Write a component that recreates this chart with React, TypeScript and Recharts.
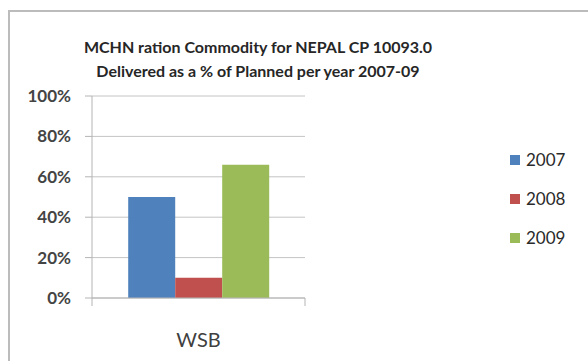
import { BarChart, Bar, XAxis, YAxis, CartesianGrid } from "recharts";

const categories = ["WSB"];
const years = ["2007", "2008", "2009"];
const delivered2007 = [0.5];
const delivered2008 = [0.1];
const delivered2009 = [0.66];
const yTicks = [0, 0.2, 0.4, 0.6, 0.8, 1];
const titleLines = [
  "MCHN ration Commodity for NEPAL CP 10093.0",
  "Delivered as a % of Planned per year 2007-09",
];

const COLORS = ["#4F81BD", "#C0504D", "#9BBB59"];
const FONT = "Lato, 'Open Sans', sans-serif";

const series = [delivered2007, delivered2008, delivered2009];

const data = categories.map((name, i) => {
  const row: Record<string, string | number> = { name };
  years.forEach((y, j) => {
    row["y" + y] = series[j][i];
  });
  return row;
});

function CategoryTick(props: any) {
  const { x, y, payload, width, visibleTicksCount } = props;
  const bw = width / (visibleTicksCount || 1);
  const axisY = y - 34;
  return (
    <g>
      <line x1={x - bw / 2} y1={axisY} x2={x - bw / 2} y2={axisY + 8} stroke="#b4b4b4" />
      <line x1={x + bw / 2} y1={axisY} x2={x + bw / 2} y2={axisY + 8} stroke="#b4b4b4" />
      <text x={x} y={y} dy={15} textAnchor="middle" fontSize={20} fill="#404040" fontFamily={FONT}>
        {payload.value}
      </text>
    </g>
  );
}

export default function App() {
  return (
    <div style={{ position: "absolute", left: 0, top: 0, width: 588, height: 361, background: "#fff", overflow: "hidden" }}>
      <div
        style={{
          position: "absolute",
          left: 8,
          top: 10,
          width: 620,
          height: 400,
          border: "2px solid #bcbcbc",
        }}
      />
      <div
        style={{
          position: "absolute",
          left: 58,
          width: 400,
          top: 35,
          textAlign: "center",
          fontFamily: FONT,
          fontWeight: 700,
          fontSize: 16,
          lineHeight: "24px",
          color: "#262626",
        }}
      >
        {titleLines.map((t) => (
          <div key={t}>{t}</div>
        ))}
      </div>
      <BarChart
        width={588}
        height={361}
        data={data}
        margin={{ top: 96, right: 283, bottom: 0, left: 0 }}
        barCategoryGap="17%"
        barGap={0}
        style={{ position: "absolute", left: 0, top: 0 }}
      >
        <CartesianGrid vertical={false} stroke="#c4c4c4" />
        <XAxis
          dataKey="name"
          height={63}
          tickLine={false}
          tickSize={0}
          tickMargin={34}
          axisLine={{ stroke: "#b4b4b4" }}
          tick={<CategoryTick />}
        />
        <YAxis
          width={92}
          domain={[0, 1]}
          ticks={yTicks}
          interval={0}
          tickSize={7}
          tickMargin={14}
          tickFormatter={(v: number) => `${Math.round(v * 100)}%`}
          axisLine={{ stroke: "#b4b4b4" }}
          tickLine={{ stroke: "#b4b4b4" }}
          tick={{ fontSize: 17, fontWeight: 700, fill: "#444", fontFamily: FONT }}
        />
        {years.map((y, j) => (
          <Bar key={y} dataKey={"y" + y} fill={COLORS[j]} isAnimationActive={false} />
        ))}
      </BarChart>
      <div style={{ position: "absolute", left: 510, top: 140, fontFamily: FONT, fontSize: 17, color: "#2a2a2a" }}>
        {years.map((y, j) => (
          <div key={y} style={{ display: "flex", alignItems: "center", height: 39 }}>
            <span style={{ width: 10, height: 10, background: COLORS[j], marginRight: 6, display: "inline-block" }} />
            <span>{y}</span>
          </div>
        ))}
      </div>
    </div>
  );
}
